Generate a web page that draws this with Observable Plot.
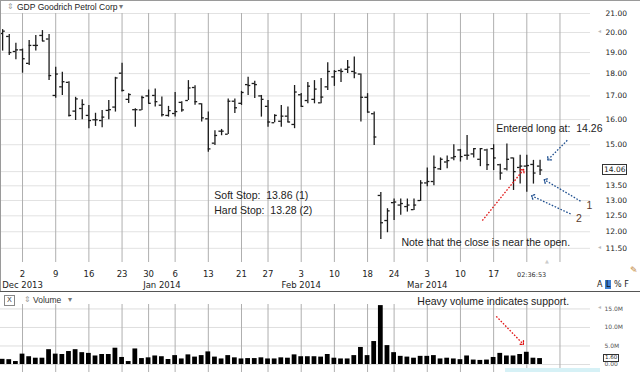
<!DOCTYPE html>
<html><head><meta charset="utf-8">
<script src="https://cdn.jsdelivr.net/npm/d3@7"></script>
<script src="https://cdn.jsdelivr.net/npm/@observablehq/plot@0.6"></script>
<style>
html,body{margin:0;padding:0;background:#fff;}
#wrap{position:relative;width:640px;height:372px;overflow:hidden;font-family:"DejaVu Sans",sans-serif;color:#222;}
#wrap svg{position:absolute;left:0;}
.abs{position:absolute;white-space:nowrap;line-height:1;}
</style></head><body><div id="wrap"></div>
<script>
// ---- data ----
const title = "GDP Goodrich Petrol Corp";
const dates = ["2013-11-26","2013-11-27","2013-11-29","2013-12-02","2013-12-03","2013-12-04","2013-12-05","2013-12-06","2013-12-09","2013-12-10","2013-12-11","2013-12-12","2013-12-13","2013-12-16","2013-12-17","2013-12-18","2013-12-19","2013-12-20","2013-12-23","2013-12-24","2013-12-26","2013-12-27","2013-12-30","2013-12-31","2014-01-02","2014-01-03","2014-01-06","2014-01-07","2014-01-08","2014-01-09","2014-01-10","2014-01-13","2014-01-14","2014-01-15","2014-01-16","2014-01-17","2014-01-21","2014-01-22","2014-01-23","2014-01-24","2014-01-27","2014-01-28","2014-01-29","2014-01-30","2014-01-31","2014-02-03","2014-02-04","2014-02-05","2014-02-06","2014-02-07","2014-02-10","2014-02-11","2014-02-12","2014-02-13","2014-02-14","2014-02-18","2014-02-19","2014-02-20","2014-02-21","2014-02-24","2014-02-25","2014-02-26","2014-02-27","2014-02-28","2014-03-03","2014-03-04","2014-03-05","2014-03-06","2014-03-07","2014-03-10","2014-03-11","2014-03-12","2014-03-13","2014-03-14","2014-03-17","2014-03-18","2014-03-19","2014-03-20","2014-03-21","2014-03-24","2014-03-25","2014-03-26"];
const open  = [19.95,19.8,19.05,19.13,18.48,19.35,19.85,19.67,17.02,17.4,17.6,16.35,16.46,16.17,15.99,15.96,16.38,16.52,18.02,16.85,16.41,16.4,17.0,17.02,16.6,16.17,16.25,16.72,16.8,17.37,16.66,16.03,15.06,15.53,15.41,16.77,16.68,17.5,17.55,17.0,16.55,15.87,15.93,16.14,15.8,17.05,16.8,16.85,16.7,17.4,17.85,18.14,18.2,18.1,17.98,16.94,16.24,13.17,12.35,12.93,12.85,12.8,12.7,13.0,13.6,13.65,14.1,14.35,14.5,14.8,14.6,14.65,14.45,14.8,14.85,14.25,14.1,14.5,14.15,14.2,14.26,14.2];
const high  = [20.15,19.9,19.46,19.17,19.6,19.85,20.1,19.9,18.3,18.06,17.63,16.94,16.83,16.59,16.26,16.38,16.8,17.83,18.49,17.09,16.45,16.98,17.26,17.3,16.95,16.55,17.15,16.75,17.68,17.45,16.66,16.31,15.55,15.6,16.87,16.87,17.2,17.83,17.65,17.02,16.8,16.2,16.59,16.52,17.46,17.1,17.6,17.68,17.78,18.51,18.14,18.22,18.62,18.78,17.98,17.1,16.31,13.27,12.73,13.05,13.05,13.05,13.05,13.68,14.13,14.57,14.5,14.57,15.0,14.82,15.36,14.85,14.85,14.83,15.0,14.27,15.03,14.5,14.6,14.6,14.41,14.41];
const low   = [19.07,18.86,18.65,18.02,18.38,19.07,19.54,17.68,16.9,17.02,16.1,15.96,15.99,15.63,15.72,15.67,15.99,16.31,17.17,16.67,15.69,16.38,16.66,16.52,16.1,16.1,16.1,16.3,16.8,16.6,15.9,14.71,14.97,15.35,15.4,16.25,16.59,17.02,16.89,16.1,15.69,15.87,15.69,15.87,15.63,16.52,16.66,16.66,16.66,17.24,17.42,17.6,18.0,17.77,15.9,16.27,14.97,11.76,11.97,12.35,12.52,12.62,12.67,12.97,13.47,13.5,14.04,14.1,14.4,14.35,14.41,14.5,14.18,14.04,14.04,13.69,14.02,13.34,13.56,13.28,13.56,13.86];
const close = [20.07,19.0,19.13,18.7,19.35,19.35,19.57,17.91,17.98,17.63,16.17,16.87,16.63,15.96,15.99,16.1,16.41,17.8,17.24,17.06,16.41,16.93,16.68,16.75,16.2,16.37,16.33,16.4,17.35,16.75,16.07,14.84,15.36,15.53,16.77,16.49,17.15,17.46,17.5,16.85,15.9,16.17,16.14,15.9,17.17,16.55,17.43,17.3,16.95,18.1,18.1,18.1,18.3,18.03,16.94,16.31,15.3,12.28,12.66,12.95,12.9,12.85,12.85,13.6,13.65,14.15,14.45,14.4,14.55,14.55,14.6,14.85,14.85,14.25,14.5,13.95,14.45,14.0,14.2,14.22,13.95,14.06];
const volume = [1.4,1.3,0.8,2.8,2.1,1.7,1.7,4.0,2.8,2.7,3.5,4.0,3.2,3.0,2.3,2.7,2.7,4.4,1.9,0.8,4.2,1.6,1.8,2.3,2.1,1.35,2.4,1.5,2.6,2.0,2.4,3.4,2.0,1.5,2.4,1.8,1.5,1.6,1.6,1.8,1.5,1.5,1.8,1.7,2.6,2.1,2.1,2.1,2.0,2.7,1.7,1.5,1.5,2.4,4.6,2.4,6.2,15.9,5.1,3.2,2.2,2.0,1.7,2.2,2.2,2.4,1.5,1.7,1.5,1.3,2.3,1.2,1.1,1.2,1.9,3.0,2.3,2.3,2.7,3.3,1.7,1.6].map(v => v * 1e6);

const weekTickIndex  = [3,8,13,18,22,26,31,36,40,45,50,55,59,64,69,74,79,84];
const weekTickLabels = ["2","9","16","23","30","6","13","21","27","3","10","18","24","3","10","17","",""];
const monthTickIndex  = [3,24,45,64];
const monthTickLabels = ["Dec 2013","Jan 2014","Feb 2014","Mar 2014"];
const priceGrid   = [11.5,12,12.5,13,13.5,14,15,16,17,18,19,20,21];
const priceLabels = [11.5,12,12.5,13,13.5,15,16,17,18,19,20,21];
const volumeTicks = [0,5e6,10e6,15e6];
const lastPrice = 14.06;
const timeStamp = "02:36:53";

const priceNotes = [
  {text:"Soft Stop:\u00a0 13.86 (1)", i:31.9, p:13.17, color:"#222"},
  {text:"Hard Stop:\u00a0 13.28 (2)", i:31.9, p:12.67, color:"#222"},
  {text:"Note that the close is near the open.", i:60.1, p:11.68, color:"#222"},
  {text:"Entered long at:\u00a0 14.26", i:74.4, p:15.62, color:"#222"},
  {text:"1", i:88.0, p:12.84, color:"#5a3a2a"},
  {text:"2", i:86.4, p:12.40, color:"#5a3a2a"}
];
const priceArrows = [
  {i1:85.1, p1:15.17, i2:82.3, p2:14.46, color:"#1f4f8f"},
  {i1:87.1, p1:12.98, i2:81.8, p2:13.69, color:"#1f4f8f"},
  {i1:85.6, p1:12.56, i2:79.9, p2:13.14, color:"#1f4f8f"},
  {i1:72.3, p1:12.35, i2:78.4, p2:14.04, color:"#e01010"}
];
const volumeNotes  = [{text:"Heavy volume indicates support.", i:62.5, v:16.9e6}];
const volumeArrows = [{i1:74.4, v1:13.0e6, i2:78.35, v2:5.7e6, color:"#e01010"}];

// ---- build ----
const rows = dates.map((d, i) => ({i, date:d, open:open[i], high:high[i], low:low[i], close:close[i], volume:volume[i]}));
const xDomain = [-0.32, 88.6];
const AX = "DejaVu Sans, sans-serif";
const ANN = "Liberation Sans, Arial, sans-serif";
const barColor = "#1c1c1c";

const priceChart = Plot.plot({
  width: 640, height: 292,
  marginTop: 13, marginRight: 50, marginBottom: 30, marginLeft: 0,
  style: {fontFamily: AX, background: "transparent", overflow: "visible", color: "#222"},
  x: {domain: xDomain, axis: null},
  y: {type: "log", domain: [11.09, 21.0], axis: null},
  marks: [
    Plot.ruleY(priceGrid, {stroke: "#e2e2e2", strokeWidth: 1}),
    Plot.ruleX(weekTickIndex, {stroke: "#afafaf", strokeWidth: 1}),
    Plot.ruleX(rows, {x: "i", y1: "low", y2: "high", stroke: barColor, strokeWidth: 1.3}),
    Plot.ruleY(rows, {y: "open", x1: d => d.i - 0.4, x2: "i", stroke: barColor, strokeWidth: 1.3}),
    Plot.ruleY(rows, {y: "close", x1: "i", x2: d => d.i + 0.4, stroke: barColor, strokeWidth: 1.3}),
    Plot.axisX({ticks: weekTickIndex, tickFormat: d => weekTickLabels[weekTickIndex.indexOf(d)], tickSize: 0, tickPadding: 8, fontSize: 8.5, label: null, fill: "#222"}),
    Plot.axisX({ticks: monthTickIndex, tickFormat: d => monthTickLabels[monthTickIndex.indexOf(d)], tickSize: 0, tickPadding: 19, fontSize: 8.5, label: null, fill: "#222"}),
    Plot.axisY({anchor: "right", ticks: priceLabels, tickFormat: d => d.toFixed(2), tickSize: 0, tickPadding: 15, fontSize: 7.5, label: null, fill: "#222"}),
    Plot.link(priceArrows, {x1: "i1", y1: "p1", x2: "i2", y2: "p2", stroke: "color", strokeWidth: 1.3, strokeDasharray: "1.6,1.6", markerEnd: "arrow"}),
    Plot.text(priceNotes, {x: "i", y: "p", text: "text", fill: "color", textAnchor: "start", fontFamily: ANN, fontSize: 10.5})
  ]
});

const volumeChart = Plot.plot({
  width: 640, height: 80,
  marginTop: 12, marginRight: 50, marginBottom: 0, marginLeft: 0,
  style: {fontFamily: AX, background: "transparent", overflow: "visible", color: "#444"},
  x: {domain: xDomain, axis: null},
  y: {domain: [-2.16e6, 16.2e6], axis: null},
  marks: [
    Plot.ruleY(volumeTicks, {stroke: "#dedede"}),
    Plot.ruleX(weekTickIndex, {stroke: "#afafaf"}),
    Plot.rect(rows, {x1: d => d.i - 0.36, x2: d => d.i + 0.36, y1: 0, y2: "volume", fill: "#000"}),
    Plot.axisY({anchor: "right", ticks: volumeTicks, tickFormat: d => d === 0 ? "0.00" : (d / 1e6).toFixed(1) + "M", tickSize: 0, tickPadding: 14, fontSize: 6, label: null, fill: "#555"}),
    Plot.link(volumeArrows, {x1: "i1", y1: "v1", x2: "i2", y2: "v2", stroke: "color", strokeWidth: 1.3, strokeDasharray: "1.6,1.6", markerEnd: "arrow"}),
    Plot.text(volumeNotes, {x: "i", y: "v", text: "text", fill: "#222", textAnchor: "start", fontFamily: ANN, fontSize: 10.5})
  ]
});

const wrap = document.getElementById("wrap");
priceChart.style.top = "0px";
volumeChart.style.top = "292px";
wrap.appendChild(priceChart);
wrap.appendChild(volumeChart);

function add(html, css) {
  const d = document.createElement("div");
  d.className = "abs";
  d.innerHTML = html;
  Object.assign(d.style, css);
  wrap.appendChild(d);
  return d;
}
// frame lines
add("", {left:"0px", top:"0px", width:"640px", height:"1px", background:"#9a9a9a"});
add("", {left:"0px", top:"0px", width:"1px", height:"292px", background:"#9a9a9a"});
add("", {left:"0px", top:"291px", width:"640px", height:"1px", background:"#555"});
// header
add("&#8661;", {left:"7px", top:"3px", fontSize:"8px", color:"#999"});
add(title, {left:"17px", top:"3px", fontSize:"8.5px", fontFamily:"Liberation Sans, Arial, sans-serif", color:"#222"});
add("&#9662;", {left:"119px", top:"3px", fontSize:"8px", color:"#777"});
// volume header
add("X", {left:"4px", top:"295px", width:"9px", height:"9px", border:"1px solid #888", fontSize:"7px", textAlign:"center", lineHeight:"9px", color:"#444"});
add("&#8661;", {left:"24px", top:"296px", fontSize:"8px", color:"#999"});
add("Volume", {left:"33px", top:"296px", fontSize:"8.5px", fontFamily:"Liberation Sans, Arial, sans-serif", color:"#333"});
add("&#9662;", {left:"68px", top:"296px", fontSize:"8px", color:"#777"});
// time stamp and scale switches
add(timeStamp, {left:"517px", top:"272px", fontSize:"6.5px", color:"#333"});
add("&#9650;", {left:"545px", top:"259px", fontSize:"5px", color:"#ccc"});
add('A <span style="background:#3d7fd0;color:#111;padding:0 1px">L</span> % F', {left:"597px", top:"281px", fontSize:"8px", color:"#222"});
add("&#9998;", {left:"630px", top:"266px", fontSize:"9px", color:"#c08030"});
// last price box
const yPx = priceChart.scale("y").apply(lastPrice);
add(lastPrice.toFixed(2), {left:"602px", top:(yPx - 5.5) + "px", fontSize:"7.5px", background:"#fff", border:"1px solid #333", padding:"1px 1px", color:"#222"});
add("&#9666;", {left:"598px", top:(priceChart.scale("y").apply(20) - 4) + "px", fontSize:"6px", color:"#bbb"});
add("&#9666;", {left:"598px", top:(priceChart.scale("y").apply(11.5) - 4) + "px", fontSize:"6px", color:"#bbb"});
// last volume box
const vPx = 292 + volumeChart.scale("y").apply(volume[volume.length - 1]);
add((volume[volume.length - 1] / 1e6).toFixed(2), {left:"603px", top:(vPx - 4) + "px", fontSize:"5.5px", background:"#fff", border:"1px solid #333", padding:"0 1px", color:"#222"});
add("&#9666;", {left:"598px", top:(292 + volumeChart.scale("y").apply(15e6) - 4) + "px", fontSize:"6px", color:"#bbb"});
add("", {left:"505px", top:"368px", width:"95px", height:"6px", background:"#d6f1f6"});
</script></body></html>
